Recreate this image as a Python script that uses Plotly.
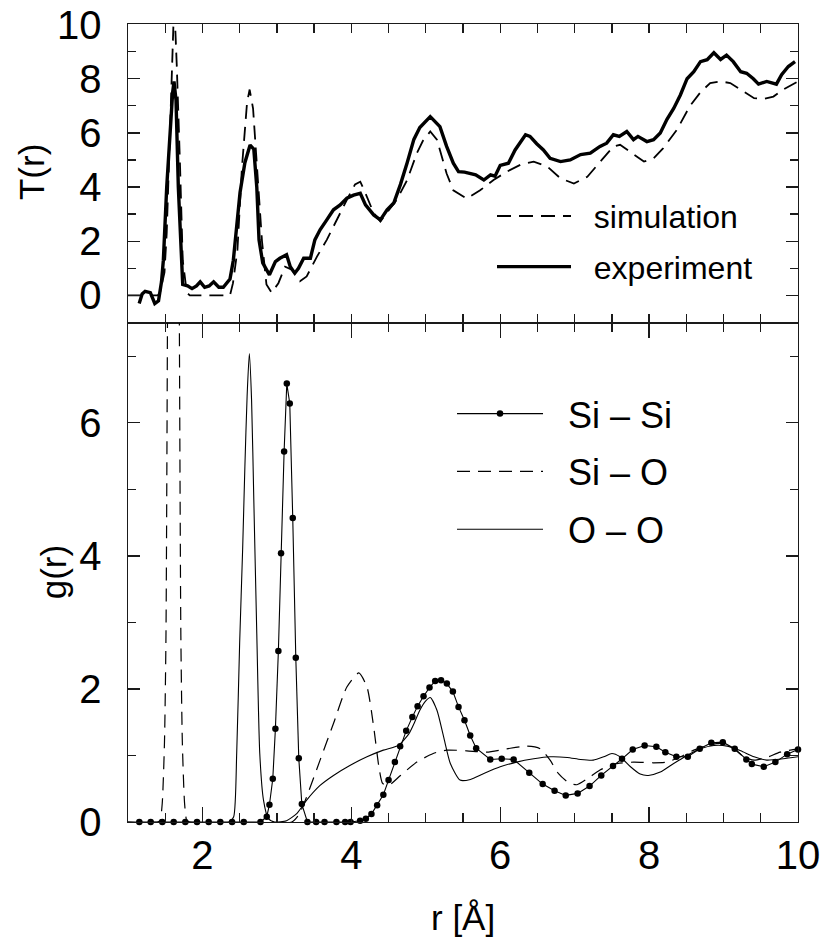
import plotly.graph_objects as go

# ---------------- data ----------------
# top panel: total correlation function T(r)
exp_r = [1.15, 1.19, 1.23, 1.3, 1.36, 1.41, 1.45, 1.475, 1.52, 1.574, 1.6, 1.618, 1.645, 1.676, 1.708, 1.735,
         1.80, 1.86, 1.92, 1.97, 2.03, 2.09, 2.15, 2.22, 2.28, 2.33, 2.37, 2.415, 2.47, 2.505, 2.57, 2.64,
         2.69, 2.73, 2.76, 2.81, 2.86, 2.9, 2.98, 3.04, 3.13, 3.18, 3.24, 3.29, 3.36, 3.45, 3.51, 3.58,
         3.67, 3.76, 3.85, 3.94, 4.03, 4.12, 4.19, 4.3, 4.39, 4.48, 4.57, 4.66, 4.75, 4.84, 4.92, 5.06,
         5.19, 5.28, 5.37, 5.44, 5.52, 5.6, 5.67, 5.78, 5.87, 5.93, 6.0, 6.11, 6.2, 6.34, 6.4, 6.49,
         6.58, 6.67, 6.81, 6.94, 7.08, 7.21, 7.34, 7.43, 7.52, 7.6, 7.7, 7.79, 7.85, 7.97, 8.06, 8.15,
         8.24, 8.33, 8.42, 8.51, 8.6, 8.69, 8.78, 8.87, 8.96, 9.04, 9.13, 9.23, 9.31, 9.4, 9.47, 9.58,
         9.71, 9.78, 9.87, 9.96]
exp_T = [-0.3, 0.05, 0.15, 0.1, -0.3, -0.2, 0.5, 1.3, 4.0, 6.6, 7.5, 7.9, 7.2, 4.0, 1.7, 0.4,
         0.35, 0.25, 0.35, 0.5, 0.3, 0.35, 0.5, 0.3, 0.3, 0.45, 0.6, 1.3, 2.8, 3.8, 4.9, 5.55,
         5.4, 4.0, 2.05, 1.2, 0.95, 0.76, 1.25, 1.37, 1.5, 1.06, 0.82, 1.0, 1.37, 1.37, 2.05, 2.42,
         2.79, 3.16, 3.34, 3.59, 3.7, 3.77, 3.34, 2.97, 2.79, 3.16, 3.41, 4.1, 4.9, 5.76, 6.2, 6.6,
         6.23, 5.5, 4.88, 4.57, 4.55, 4.5, 4.45, 4.26, 4.45, 4.4, 4.8, 4.88, 5.37, 5.93, 5.87, 5.6,
         5.37, 5.06, 4.94, 5.0, 5.2, 5.25, 5.5, 5.62, 5.93, 5.87, 6.05, 5.75, 5.87, 5.68, 5.75, 6.0,
         6.5, 6.9, 7.4, 8.0, 8.26, 8.63, 8.7, 8.96, 8.71, 8.87, 8.63, 8.26, 8.2, 8.0, 7.8, 7.9,
         7.8, 8.15, 8.45, 8.63]

sim_r = [1.0, 1.4, 1.43, 1.49, 1.52, 1.565, 1.6, 1.615, 1.63, 1.655, 1.7, 1.735, 1.79, 1.83, 2.37, 2.41,
         2.47, 2.53, 2.6, 2.634, 2.68, 2.73, 2.8, 2.86, 2.93, 3.02, 3.11, 3.2, 3.31, 3.4, 3.54, 3.67,
         3.8, 3.94, 4.05, 4.12, 4.19, 4.3, 4.39, 4.48, 4.61, 4.75, 4.88, 4.96, 5.06, 5.15, 5.28, 5.37,
         5.55, 5.73, 5.91, 6.09, 6.27, 6.45, 6.63, 6.81, 6.99, 7.17, 7.34, 7.52, 7.61, 7.75, 7.93, 8.06,
         8.19, 8.37, 8.55, 8.69, 8.82, 8.96, 9.09, 9.23, 9.41, 9.54, 9.67, 9.8, 9.92, 10.0]
sim_T = [0, 0, 0.1, 0.85, 2.3, 6.0, 9.67, 10.4, 10.2, 8.5, 4.7, 1.3, 0.1, 0, 0, 0.45,
         1.68, 4.7, 7.15, 7.6, 6.9, 4.7, 2.0, 0.4, 0.1, 0.45, 1.06, 0.95, 0.52, 0.7, 1.44, 2.05,
         2.79, 3.53, 4.1, 4.2, 3.77, 3.04, 2.73, 3.04, 3.53, 4.26, 5.25, 5.7, 6.05, 5.75, 4.5, 3.88,
         3.57, 3.88, 4.26, 4.57, 4.82, 4.94, 4.76, 4.32, 4.13, 4.38, 4.94, 5.5, 5.56, 5.3, 4.94, 5.06,
         5.44, 6.1, 7.0, 7.5, 7.84, 7.9, 7.84, 7.6, 7.28, 7.25, 7.34, 7.6, 7.78, 7.9]

# bottom panel: partial pair correlation functions g(r)
sisi_r = [1.152, 1.305, 1.461, 1.614, 1.77, 1.927, 2.084, 2.24, 2.398, 2.555, 2.78, 2.864, 2.9, 2.945,
          2.98, 3.02, 3.056, 3.097, 3.133, 3.173, 3.213, 3.254, 3.294, 3.335, 3.41, 3.527, 3.64, 3.8,
          3.917, 3.99, 4.118, 4.195, 4.27, 4.347, 4.43, 4.5, 4.585, 4.656, 4.737, 4.82, 4.89, 4.97,
          5.05, 5.126, 5.205, 5.283, 5.364, 5.44, 5.52, 5.597, 5.677, 5.866, 6.02, 6.18, 6.39, 6.57,
          6.73, 6.88, 7.04, 7.2, 7.357, 7.515, 7.636, 7.78, 7.94, 8.097, 8.218, 8.366, 8.52, 8.68,
          8.836, 8.99, 9.15, 9.306, 9.38, 9.54, 9.696, 9.854, 10.0]
sisi_g = [0, 0, 0, 0, 0, 0, 0, 0, 0, 0, 0, 0.08, 0.26, 0.65,
          1.4, 2.57, 4.04, 5.57, 6.59, 6.29, 4.57, 2.47, 0.96, 0.27, 0, 0, 0, 0,
          0, 0, 0.02, 0.05, 0.12, 0.25, 0.41, 0.63, 0.9, 1.14, 1.37, 1.58, 1.74, 1.89,
          2.02, 2.12, 2.13, 2.08, 1.96, 1.73, 1.53, 1.30, 1.11, 0.94, 0.95, 0.94, 0.74, 0.57,
          0.47, 0.40, 0.43, 0.54, 0.70, 0.84, 0.95, 1.09, 1.15, 1.13, 1.05, 0.98, 0.98, 1.10,
          1.19, 1.20, 1.10, 0.94, 0.87, 0.83, 0.90, 1.02, 1.09]

sio_r = [1.0, 1.40, 1.43, 1.46, 1.49, 1.51, 1.53, 1.56, 1.61, 1.66, 1.69, 1.71, 1.73, 1.76, 1.79, 1.83,
         3.2, 3.3, 3.40, 3.58, 3.76, 3.94, 4.1, 4.21, 4.3, 4.37, 4.42, 4.5, 4.66, 4.88, 5.1, 5.28,
         5.55, 5.82, 6.09, 6.36, 6.54, 6.67, 6.78, 6.92, 7.03, 7.17, 7.34, 7.52, 7.79, 8.06, 8.24, 8.42,
         8.6, 8.78, 8.96, 9.14, 9.27, 9.41, 9.58, 9.76, 10.0]
sio_g = [0, 0, 0.02, 0.28, 1.2, 2.8, 7.5, 18.0, 32.0, 18.0, 7.5, 2.8, 1.2, 0.28, 0.02, 0,
         0, 0.12, 0.38, 0.93, 1.48, 2.03, 2.24, 2.03, 1.43, 0.83, 0.58, 0.55, 0.70, 0.90, 1.03, 1.08,
         1.07, 1.05, 1.10, 1.14, 1.10, 0.93, 0.73, 0.59, 0.56, 0.65, 0.78, 0.87, 0.90, 0.89, 0.90, 0.98,
         1.08, 1.15, 1.18, 1.10, 0.98, 0.93, 0.97, 1.05, 1.10]

oo_r = [1.0, 2.36, 2.42, 2.46, 2.50, 2.54, 2.57, 2.60, 2.63, 2.66, 2.69, 2.73, 2.77, 2.82, 2.886, 2.97,
        3.13, 3.27, 3.40, 3.58, 3.76, 3.98, 4.21, 4.43, 4.63, 4.77, 4.85, 4.92, 5.0, 5.06, 5.15, 5.24,
        5.33, 5.46, 5.6, 5.78, 6.0, 6.22, 6.45, 6.67, 6.9, 7.08, 7.25, 7.39, 7.5, 7.61, 7.75, 7.88,
        7.99, 8.15, 8.33, 8.51, 8.69, 8.87, 9.05, 9.23, 9.41, 9.58, 9.8, 10.0]
oo_g = [0, 0, 0.08, 1.03, 2.7, 4.1, 5.34, 6.4, 7.04, 6.34, 4.84, 2.83, 1.03, 0.33, 0.05, 0,
        0.02, 0.13, 0.33, 0.55, 0.70, 0.85, 0.98, 1.08, 1.15, 1.32, 1.5, 1.68, 1.82, 1.87, 1.68, 1.28,
        0.88, 0.63, 0.64, 0.73, 0.83, 0.90, 0.95, 0.98, 0.97, 0.94, 0.93, 0.98, 1.03, 0.98, 0.83, 0.72,
        0.70, 0.75, 0.88, 1.0, 1.10, 1.15, 1.14, 1.07, 0.98, 0.93, 0.95, 0.98]

x_tickvals = [2, 4, 6, 8, 10]
T_tickvals = [0, 2, 4, 6, 8, 10]
g_tickvals = [0, 2, 4, 6]

# ---------------- figure ----------------
FONT = "Liberation Sans, Arial, Helvetica, sans-serif"
INK = "#000000"
AX = "#1a1a1a"
NB = "\u00a0\u00a0"   # small gap between legend key and legend text

fig = go.Figure()

fig.add_trace(go.Scatter(x=sim_r, y=sim_T, mode="lines", name=NB + "simulation",
                         line=dict(color=INK, width=1.8, dash="14px,8px"),
                         xaxis="x", yaxis="y", legend="legend", legendgroup="a"))
fig.add_trace(go.Scatter(x=exp_r, y=exp_T, mode="lines", name=NB + "experiment",
                         line=dict(color=INK, width=3.4),
                         xaxis="x", yaxis="y", legend="legend", legendgroup="b"))

fig.add_trace(go.Scatter(x=sisi_r, y=sisi_g, mode="lines+markers", name=NB + "Si – Si",
                         line=dict(color=INK, width=1.1),
                         marker=dict(color=INK, size=6.5),
                         cliponaxis=False,
                         xaxis="x2", yaxis="y2", legend="legend2", legendgroup="c"))
fig.add_trace(go.Scatter(x=sio_r, y=sio_g, mode="lines", name=NB + "Si – O",
                         line=dict(color=INK, width=1.2, dash="13px,8px", shape="spline", smoothing=0.6),
                         xaxis="x2", yaxis="y2", legend="legend2", legendgroup="d"))
fig.add_trace(go.Scatter(x=oo_r, y=oo_g, mode="lines", name=NB + "O – O",
                         line=dict(color=INK, width=1.1, shape="spline", smoothing=0.6),
                         xaxis="x2", yaxis="y2", legend="legend2", legendgroup="e"))

common = dict(showline=True, linecolor=AX, linewidth=1.4, mirror="ticks", ticks="inside",
              tickcolor=AX, tickwidth=1.3, showgrid=False, zeroline=False, automargin=False,
              ticklabeloverflow="allow")

split = 0.6253
fig.update_layout(
    template="none",
    width=823, height=951,
    margin=dict(l=128, r=25, t=24, b=129, autoexpand=False),
    paper_bgcolor="white", plot_bgcolor="white",
    font=dict(family=FONT, color=INK),
    xaxis=dict(domain=[0, 1], anchor="y", range=[1, 10], matches="x2",
               tickvals=x_tickvals, showticklabels=False, ticklen=9,
               minor=dict(dtick=0.5, tick0=0, ticklen=9, ticks="inside", tickcolor=AX, showgrid=False),
               **common),
    xaxis2=dict(domain=[0, 1], anchor="y2", range=[1, 10],
                tickvals=x_tickvals, ticklen=15, tickfont=dict(size=40),
                ticklabelstandoff=-2,
                minor=dict(dtick=0.5, tick0=0, ticklen=9, ticks="inside", tickcolor=AX, showgrid=False),
                **common),
    yaxis=dict(domain=[split, 1], anchor="x", range=[-1.02, 10.02],
               tickvals=T_tickvals, ticklen=12, tickfont=dict(size=40),
               ticklabelstandoff=17,
               minor=dict(dtick=1, tick0=0, ticklen=8, ticks="inside", tickcolor=AX, showgrid=False),
               **common),
    yaxis2=dict(domain=[0, split], anchor="x2", range=[0, 7.5],
                tickvals=g_tickvals, ticklen=12, tickfont=dict(size=40),
                ticklabelstandoff=17,
                minor=dict(dtick=1, tick0=0, ticklen=8, ticks="inside", tickcolor=AX, showgrid=False),
                **common),
    legend=dict(x=0.5433, y=0.7272, xanchor="left", yanchor="middle",
                font=dict(size=32, family=FONT), bgcolor="rgba(0,0,0,0)",
                traceorder="grouped", tracegroupgap=6, itemwidth=74),
    legend2=dict(x=0.4836, y=0.439, xanchor="left", yanchor="middle",
                 font=dict(size=36, family=FONT), bgcolor="rgba(0,0,0,0)",
                 traceorder="grouped", tracegroupgap=8, itemwidth=86),
    showlegend=True,
    annotations=[
        dict(text="T(r)", xref="paper", yref="paper", x=-0.1448, y=0.8145, textangle=-90,
             showarrow=False, xanchor="center", yanchor="middle", font=dict(size=35)),
        dict(text="g(r)", xref="paper", yref="paper", x=-0.11, y=0.3133, textangle=-90,
             showarrow=False, xanchor="center", yanchor="middle", font=dict(size=35)),
        dict(text="r [Å]", xref="paper", yref="paper", x=0.5, y=-0.1203,
             showarrow=False, xanchor="center", yanchor="middle", font=dict(size=35)),
    ],
)

# remove the page's default body margin so the 823x951 figure fills the window exactly
fig.write_html("out.html",
               config={"displayModeBar": False, "staticPlot": True},
               post_script="document.body.style.margin='0';document.body.style.overflow='hidden';")
